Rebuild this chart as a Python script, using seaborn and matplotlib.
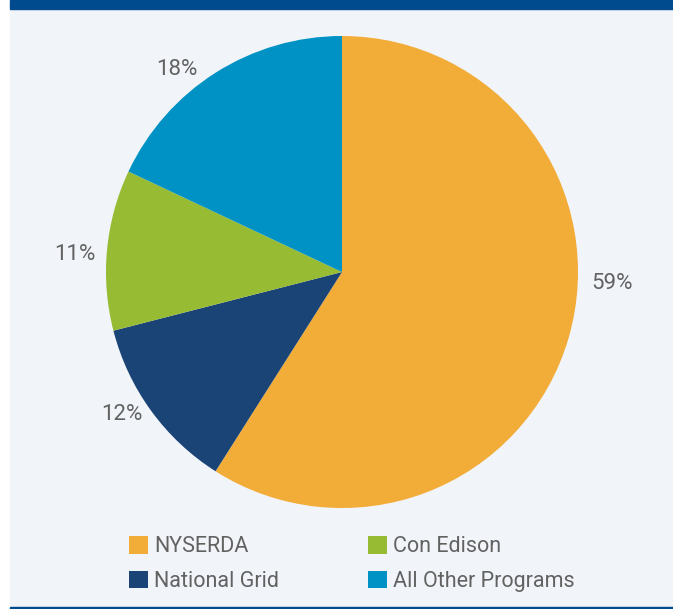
import matplotlib
matplotlib.use('Agg')
import matplotlib.pyplot as plt
from matplotlib.patches import Rectangle, Patch
import seaborn as sns

# data
programs = ['NYSERDA', 'National Grid', 'Con Edison', 'All Other Programs']
shares = [59, 12, 11, 18]
colors = ['#F2AC38', '#1A4476', '#97BC33', '#0092C4']
pct_labels = ['59%', '12%', '11%', '18%']

# label positions in pie radius units (placed by hand in the original)
label_xy = [(1.144, -0.047), (-0.934, -0.602), (-1.133, 0.076), (-0.699, 0.860)]

sns.set_theme(style='white')
plt.rcParams['font.family'] = ['Roboto', 'DejaVu Sans']
text_color = '#626262'
fsize = 15.5

W, H = 673, 609
fig = plt.figure(figsize=(W / 100, H / 100), dpi=100)
fig.patch.set_facecolor('white')

# panel background, top bar and bottom rule
fig.patches.append(Rectangle((10 / W, 0), 1 - 10 / W, 1, transform=fig.transFigure,
                             color='#F1F4F8', zorder=-3))
fig.patches.append(Rectangle((10 / W, 1 - 9 / H), 1 - 10 / W, 9 / H, transform=fig.transFigure,
                             color='#004B8D', zorder=-2))
fig.patches.append(Rectangle((10 / W, 0), 1 - 10 / W, 2.5 / H, transform=fig.transFigure,
                             color='#004B8D', zorder=-2))

# pie axes: centre (342, 272) px, radius 236 px
cx, cy, r = 342, 272, 236
ax = fig.add_axes([(cx - r) / W, (H - cy - r) / H, 2 * r / W, 2 * r / H])
ax.set_facecolor('none')
wedges, _ = ax.pie(shares, colors=colors, startangle=90, counterclock=False,
                   radius=1, wedgeprops=dict(linewidth=0))
ax.set_xlim(-1, 1)
ax.set_ylim(-1, 1)
ax.set_aspect('equal')
ax.axis('off')

for (x, y), lab in zip(label_xy, pct_labels):
    ax.text(x, y, lab, ha='center', va='center', fontsize=16, color=text_color)

handles = [Patch(facecolor=c, edgecolor='none') for c in colors]
leg = fig.legend(handles, programs, ncol=2, loc='upper left',
                 bbox_to_anchor=(129 / W, 1 - 536 / H), frameon=False,
                 fontsize=fsize, handlelength=0.88, handleheight=0.88,
                 handletextpad=0.3, columnspacing=4.1, labelspacing=0.62,
                 borderpad=0, borderaxespad=0)
for t in leg.get_texts():
    t.set_color(text_color)

fig.savefig('out.png', dpi=100, facecolor=fig.get_facecolor())
